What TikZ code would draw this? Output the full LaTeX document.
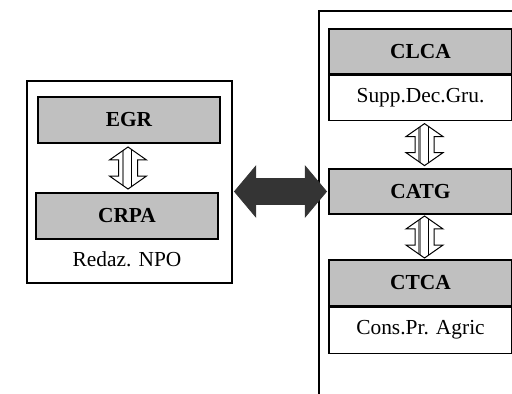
\documentclass[tikz,border=0pt]{standalone}
\usepackage{fontspec}
\setmainfont{Liberation Serif}
\usetikzlibrary{calc,shapes.arrows}
\definecolor{grigio}{RGB}{192,192,192}
\definecolor{scuro}{RGB}{52,52,52}
\tikzset{
  ente/.style={draw=black, line width=0.6pt, fill=grigio, minimum width=91pt, minimum height=23pt, inner sep=0pt, font=\fontsize{10.7}{12}\selectfont\bfseries},
  descr/.style={draw=black, line width=0.6pt, fill=white, minimum width=91.5pt, minimum height=23pt, inner sep=0pt, font=\fontsize{10.7}{12}\selectfont},
  cornice/.style={draw=black, line width=0.6pt, inner sep=0pt},
  etich/.style={inner sep=0pt, font=\fontsize{10.7}{12}\selectfont},
  vfreccia/.style={double arrow, draw=black, line width=0.5pt, fill=white, shape border rotate=90, minimum height=21pt, minimum width=18pt, inner sep=0pt, text width=9pt, text height=0pt, text depth=0pt, double arrow head extend=4.5pt, double arrow tip angle=110,
    path picture={
      \draw[gray, line width=1.2pt] ([xshift=-2.6pt]path picture bounding box.south) -- ([xshift=-2.6pt]path picture bounding box.north);
      \draw[black, line width=0.3pt] ([xshift=1.8pt]path picture bounding box.south) -- ([xshift=1.8pt]path picture bounding box.north);
    }},
  hfreccia/.style={double arrow, draw=scuro, fill=scuro, minimum height=46pt, minimum width=25pt, inner sep=0pt, text width=0pt, text height=12.5pt, double arrow head extend=6.25pt, double arrow tip angle=100},
}

\begin{document}
\begin{tikzpicture}[x=0.5pt, y=-0.5pt]
  \useasboundingbox (0,0) rectangle (512,393);
  % blocco di sinistra
  \node[cornice, minimum width=102.5pt, minimum height=101pt] (npo) at (129.5,182) {};
  \node[ente] (egr) at (129,120) {EGR};
  \node[ente] (crpa) at (127,216) {CRPA};
  \node[etich] (redaz) at (127,259) {Redaz. NPO};
  \node[vfreccia] (l1) at ($(egr.south)!.5!(crpa.north)$) {};
  % blocco di destra
  \node[cornice, minimum width=105.5pt, minimum height=199.5pt] (cent) at (424.5,210.5) {};
  \node[ente, minimum width=91.5pt, minimum height=22.5pt] (clca) at (420.5,51.5) {CLCA};
  \node[descr, minimum height=22.5pt, anchor=north] (supp) at (clca.south) {Supp.Dec.Gru.};
  \node[ente, minimum width=91.5pt, minimum height=22.5pt] (catg) at (420.5,191.5) {CATG};
  \node[ente, minimum width=91.5pt] (ctca) at (420.5,283) {CTCA};
  \node[descr, anchor=north] (cons) at (ctca.south) {Cons.Pr. Agric};
  \node[vfreccia, xshift=2pt] (r1) at ($(supp.south)!.5!(catg.north)$) {};
  \node[vfreccia, xshift=2pt] (r2) at ($(catg.south)!.5!(ctca.north)$) {};
  % collegamento tra i blocchi
  \node[hfreccia] (link) at ($(npo.east |- catg.west)!.5!(catg.west)$) {};
\end{tikzpicture}
\end{document}
